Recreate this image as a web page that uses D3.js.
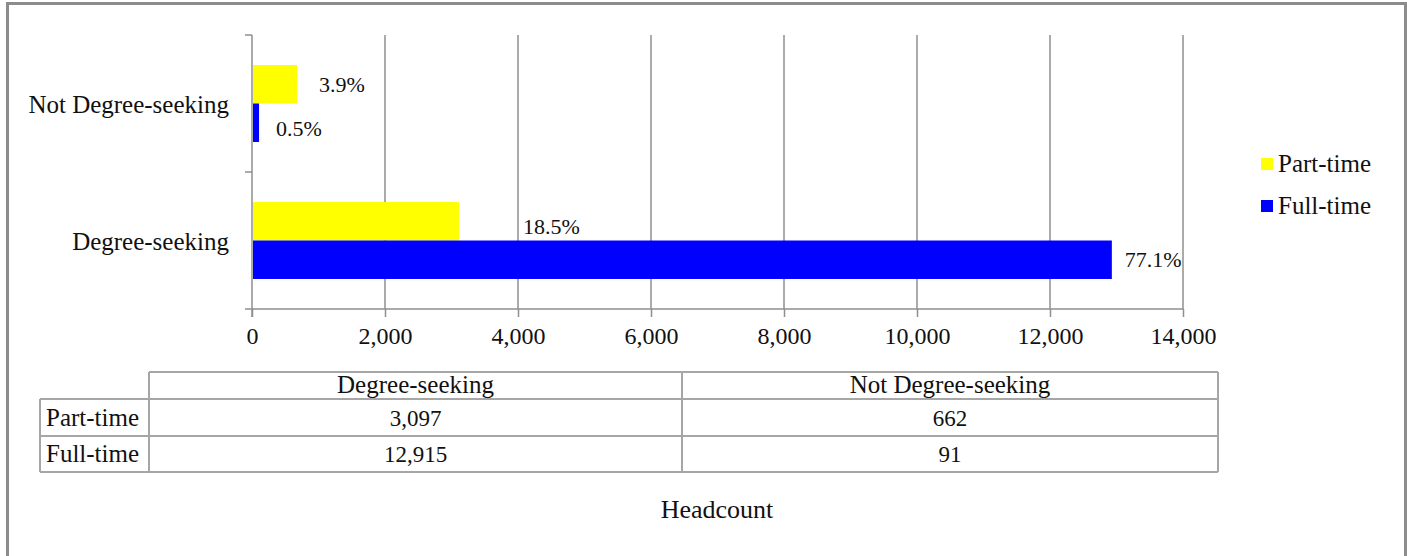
<!DOCTYPE html>
<html>
<head>
<meta charset="utf-8">
<script src="https://cdn.jsdelivr.net/npm/d3@7"></script>
<style>
    body { margin: 0; background: #fff; }
    svg text { font-family: "Liberation Serif", "Times New Roman", serif; fill: #111; }
</style>
</head>
<body>
<div id="app"></div>
<script>
// data
var categories = ['Not Degree-seeking', 'Degree-seeking'];
var seriesNames = ['Part-time', 'Full-time'];
var partTime = [662, 3097];
var fullTime = [91, 12915];
var partTimePct = ['3.9%', '18.5%'];
var fullTimePct = ['0.5%', '77.1%'];
var xTicks = [0, 2000, 4000, 6000, 8000, 10000, 12000, 14000];
var tableColumns = ['Degree-seeking', 'Not Degree-seeking'];
var axisTitle = 'Headcount';

var colors = { 'Part-time': '#ffff00', 'Full-time': '#0000ff' };

var width = 1407, height = 556;
var plot = { left: 252, right: 1183, top: 35, bottom: 309 };

var svg = d3.select('#app')
    .append('svg')
    .attr('width', width)
    .attr('height', height);

// outer frame
svg.append('rect')
    .attr('x', 7.5)
    .attr('y', 3.5)
    .attr('width', 1398)
    .attr('height', 600)
    .attr('fill', 'none')
    .attr('stroke', '#8c8c8c')
    .attr('stroke-width', 3);

var x = d3.scaleLinear()
    .domain([0, 14000])
    .range([plot.left, plot.right]);

var y = d3.scaleBand()
    .domain(categories)
    .range([plot.top, plot.bottom]);

var sub = d3.scaleBand()
    .domain(seriesNames)
    .range([0, y.bandwidth()])
    .paddingOuter(0.78);

// gridlines
svg.append('g')
    .selectAll('line')
    .data(xTicks.slice(1))
    .enter()
    .append('line')
    .attr('x1', function(d) { return x(d); })
    .attr('x2', function(d) { return x(d); })
    .attr('y1', plot.top)
    .attr('y2', plot.bottom)
    .attr('stroke', '#8f8f8f')
    .attr('stroke-width', 1.5);

// x axis
var xAxis = d3.axisBottom(x)
    .tickValues(xTicks)
    .tickSize(8)
    .tickPadding(10)
    .tickFormat(d3.format(','));

var gx = svg.append('g')
    .attr('transform', 'translate(0,' + plot.bottom + ')')
    .call(xAxis);
gx.selectAll('path, line').attr('stroke', '#8f8f8f').attr('stroke-width', 1.5);
gx.select('.domain').attr('d', 'M' + plot.left + ',0H' + plot.right);
gx.selectAll('text').attr('font-size', 24).attr('fill', '#111')
    .style('font-family', '"Liberation Serif", serif');

// y axis
var yTicks = [plot.top, plot.top + y.bandwidth(), plot.bottom];
var gy = svg.append('g');
gy.append('line')
    .attr('x1', plot.left).attr('x2', plot.left)
    .attr('y1', plot.top).attr('y2', plot.bottom + 8)
    .attr('stroke', '#8f8f8f').attr('stroke-width', 1.5);
gy.selectAll('.ytick')
    .data(yTicks)
    .enter()
    .append('line')
    .attr('class', 'ytick')
    .attr('x1', plot.left - 7).attr('x2', plot.left)
    .attr('y1', function(d) { return d; })
    .attr('y2', function(d) { return d; })
    .attr('stroke', '#8f8f8f').attr('stroke-width', 1.5);
gy.selectAll('text')
    .data(categories)
    .enter()
    .append('text')
    .attr('x', plot.left - 23)
    .attr('y', function(d) { return y(d) + y.bandwidth() / 2 + 9; })
    .attr('text-anchor', 'end')
    .attr('font-size', 25)
    .text(function(d) { return d; });

// bars
var rows = categories.map(function(c, i) {
    return [
        { cat: c, name: 'Part-time', value: partTime[i], pct: partTimePct[i] },
        { cat: c, name: 'Full-time', value: fullTime[i], pct: fullTimePct[i] }
    ];
});
var bars = d3.merge(rows);

svg.append('g')
    .selectAll('rect')
    .data(bars)
    .enter()
    .append('rect')
    .attr('x', x(0) + 1)
    .attr('y', function(d) { return y(d.cat) + sub(d.name); })
    .attr('width', function(d) { return x(d.value) - x(0); })
    .attr('height', sub.bandwidth())
    .attr('fill', function(d) { return colors[d.name]; });

// data labels (nudges follow the original layout)
var nudge = {
    'Not Degree-seeking|Part-time': [23, 8],
    'Not Degree-seeking|Full-time': [18, 13],
    'Degree-seeking|Part-time': [65, 13],
    'Degree-seeking|Full-time': [14, 7]
};
svg.append('g')
    .selectAll('text')
    .data(bars)
    .enter()
    .append('text')
    .attr('x', function(d) { return x(d.value) + nudge[d.cat + '|' + d.name][0]; })
    .attr('y', function(d) {
        return y(d.cat) + sub(d.name) + sub.bandwidth() / 2 + nudge[d.cat + '|' + d.name][1];
    })
    .attr('font-size', 22)
    .text(function(d) { return d.pct; });

// legend
var legend = svg.append('g')
    .selectAll('g')
    .data(seriesNames)
    .enter()
    .append('g')
    .attr('transform', function(d, i) { return 'translate(1261,' + (158 + i * 42) + ')'; });
legend.append('rect')
    .attr('width', 12).attr('height', 12)
    .attr('fill', function(d) { return colors[d]; });
legend.append('text')
    .attr('x', 17).attr('y', 14)
    .attr('font-size', 25)
    .text(function(d) { return d; });

// data table
var colX = [40, 149, 682, 1218];
var rowY = [372, 399, 436, 472];
var tbl = svg.append('g');
var lineColor = '#a6a6a6';
function hline(x1, x2, yy) {
    tbl.append('line').attr('x1', x1).attr('x2', x2).attr('y1', yy).attr('y2', yy)
        .attr('stroke', lineColor).attr('stroke-width', 2);
}
function vline(xx, y1, y2) {
    tbl.append('line').attr('x1', xx).attr('x2', xx).attr('y1', y1).attr('y2', y2)
        .attr('stroke', lineColor).attr('stroke-width', 2);
}
hline(colX[1], colX[3], rowY[0]);
hline(colX[0], colX[3], rowY[1]);
hline(colX[0], colX[3], rowY[2]);
hline(colX[0], colX[3], rowY[3]);
vline(colX[0], rowY[1], rowY[3]);
vline(colX[1], rowY[0], rowY[3]);
vline(colX[2], rowY[0], rowY[3]);
vline(colX[3], rowY[0], rowY[3]);

tableColumns.forEach(function(c, j) {
    tbl.append('text')
        .attr('x', (colX[j + 1] + colX[j + 2]) / 2)
        .attr('y', rowY[0] + 21)
        .attr('text-anchor', 'middle')
        .attr('font-size', 25)
        .text(c);
});

var tableRows = [
    { name: seriesNames[0], values: [partTime[1], partTime[0]] },
    { name: seriesNames[1], values: [fullTime[1], fullTime[0]] }
];
tableRows.forEach(function(r, i) {
    var base = (rowY[i + 1] + rowY[i + 2]) / 2 + 8;
    tbl.append('text')
        .attr('x', colX[0] + 6)
        .attr('y', base)
        .attr('font-size', 25)
        .text(r.name);
    r.values.forEach(function(v, j) {
        tbl.append('text')
            .attr('x', (colX[j + 1] + colX[j + 2]) / 2)
            .attr('y', base)
            .attr('text-anchor', 'middle')
            .attr('font-size', 23)
            .text(d3.format(',')(v));
    });
});

// axis title
svg.append('text')
    .attr('x', 717)
    .attr('y', 518)
    .attr('text-anchor', 'middle')
    .attr('font-size', 26)
    .text(axisTitle);
</script>
</body>
</html>
